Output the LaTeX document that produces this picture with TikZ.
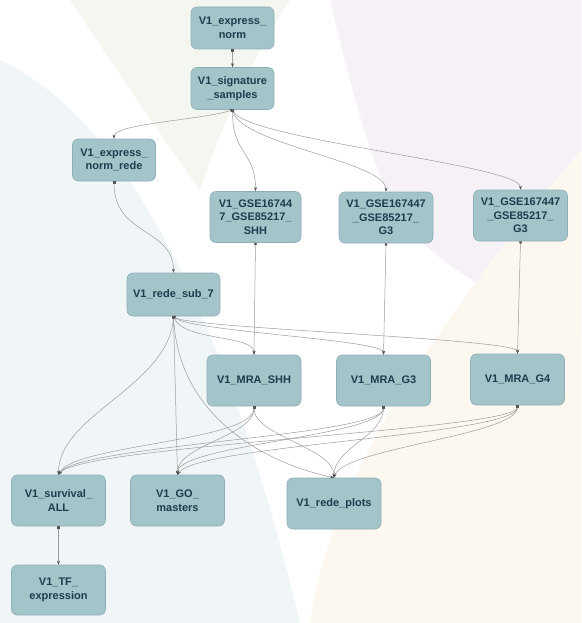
\documentclass[tikz,border=0pt]{standalone}
\usepackage{fontspec}
\setmainfont{Liberation Sans}
\usetikzlibrary{arrows.meta}

\definecolor{boxfill}{HTML}{A3C4C9}
\definecolor{boxline}{HTML}{8DB0B6}
\definecolor{boxtext}{HTML}{1F3D4E}
\definecolor{linkgray}{HTML}{9C9C9C}
\definecolor{tipgray}{HTML}{555555}
\definecolor{bgblue}{HTML}{F0F5F8}
\definecolor{bggreen}{HTML}{F4F6F0}
\definecolor{bglilac}{HTML}{F6F1F7}
\definecolor{bgpeach}{HTML}{FDF8EF}

\tikzset{
  job/.style={shape=rectangle, rounded corners=6pt, fill=boxfill, draw=boxline,
    line width=0.6pt, text=boxtext, align=center, inner sep=2pt,
    font=\bfseries\fontsize{11}{13.5}\selectfont},
  small job/.style={job, minimum width=83pt, minimum height=42pt},
  big job/.style={job, minimum width=94pt, minimum height=51pt},
  link/.style={draw=linkgray, line width=0.5pt,
    {Square[length=2.2pt,width=2.2pt,color=tipgray]}-{Stealth[length=4pt,width=3pt,color=tipgray]}},
}

\begin{document}
\begin{tikzpicture}[x=1pt,y=-1pt]

	% background
	\fill[white] (0,0) rectangle (581,623);
	\fill[bgblue] (0,60) .. controls (130,120) and (230,330) .. (300,623) -- (0,623) -- cycle;
	\fill[bggreen] (70,0) -- (290,0) .. controls (250,60) and (220,130) .. (200,190) .. controls (150,120) and (110,60) .. (70,0) -- cycle;
	\fill[bglilac] (330,0) -- (581,0) -- (581,330) .. controls (500,300) and (420,260) .. (390,200) .. controls (360,130) and (345,60) .. (330,0) -- cycle;
	\fill[bgpeach] (310,623) .. controls (330,480) and (430,330) .. (581,150) -- (581,623) -- cycle;

	\node[small job] (expnorm)   at (232.5, 28)  {V1\_express\_\\norm};
	\node[small job] (sigsamp)   at (232.5, 88.5) {V1\_signature\\\_samples};
	\node[small job] (expnrede)  at (114, 160)   {V1\_express\_\\norm\_rede};
	\node[big job, minimum width=91pt] (gseshh) at (255.5, 217) {V1\_GSE16744\\7\_GSE85217\_\\SHH};
	\node[big job] (gseg3)       at (386, 217.5) {V1\_GSE167447\\\_GSE85217\_\\G3};
	\node[big job] (gseg3b)      at (520.5, 215.5) {V1\_GSE167447\\\_GSE85217\_\\G3};
	\node[job, minimum width=93pt, minimum height=43pt] (redesub) at (173.5, 294.5) {V1\_rede\_sub\_7};
	\node[big job] (mrashh)      at (254, 380.5) {V1\_MRA\_SHH};
	\node[big job] (mrag3)       at (383.5, 380.5) {V1\_MRA\_G3};
	\node[big job] (mrag4)       at (517.5, 379.5) {V1\_MRA\_G4};
	\node[big job] (survall)     at (58.5, 500.5) {V1\_survival\_\\ALL};
	\node[big job] (gomasters)   at (177.5, 500.5) {V1\_GO\_\\masters};
	\node[big job] (redeplots)   at (334, 503.5) {V1\_rede\_plots};
	\node[big job, minimum height=50pt] (tfexpr) at (58.5, 590) {V1\_TF\_\\expression};

	% top part
	\draw[link] (expnorm.south) -- (sigsamp.north);
	\draw[link] (sigsamp.south) .. controls +(-30,10) and +(0,-15) .. (expnrede.north);
	\draw[link] (sigsamp.south) .. controls +(0,45) and +(0,-40) .. (gseshh.north);
	\draw[link] (sigsamp.south) .. controls +(10,35) and +(0,-30) .. (gseg3.north);
	\draw[link] (sigsamp.south) .. controls +(15,30) and +(0,-25) .. (gseg3b.north);
	\draw[link] (expnrede.south) .. controls +(0,55) and +(0,-45) .. (redesub.north);
	\draw[link] (gseshh.south) -- (mrashh.north);
	\draw[link] (gseg3.south) -- (mrag3.north);
	\draw[link] (gseg3b.south) -- (mrag4.north);

	% from the sub network
	\draw[link] (redesub.south) .. controls +(10,25) and +(0,-20) .. (mrashh.north);
	\draw[link] (redesub.south) .. controls +(15,15) and +(0,-15) .. (mrag3.north);
	\draw[link] (redesub.south) .. controls +(15,12) and +(0,-15) .. (mrag4.north);
	\draw[link] (redesub.south) .. controls +(-5,70) and +(0,-60) .. (survall.north);
	\draw[link] (redesub.south) -- (gomasters.north);
	\draw[link] (redesub.south) .. controls +(5,100) and +(-70,-15) .. (redeplots.north);

	% from the MRA runs
	\draw[link] (mrashh.south) .. controls +(0,35) and +(15,-30) .. (survall.north);
	\draw[link] (mrashh.south) .. controls +(0,30) and +(0,-30) .. (gomasters.north);
	\draw[link] (mrashh.south) .. controls +(0,30) and +(0,-30) .. (redeplots.north);
	\draw[link] (mrag3.south) .. controls +(0,30) and +(20,-30) .. (survall.north);
	\draw[link] (mrag3.south) .. controls +(0,30) and +(0,-30) .. (gomasters.north);
	\draw[link] (mrag3.south) .. controls +(0,30) and +(0,-30) .. (redeplots.north);
	\draw[link] (mrag4.south) .. controls +(0,25) and +(25,-30) .. (survall.north);
	\draw[link] (mrag4.south) .. controls +(0,30) and +(20,-30) .. (gomasters.north);
	\draw[link] (mrag4.south) .. controls +(0,30) and +(10,-30) .. (redeplots.north);
	\draw[link] (survall.south) -- (tfexpr.north);

\end{tikzpicture}
\end{document}
